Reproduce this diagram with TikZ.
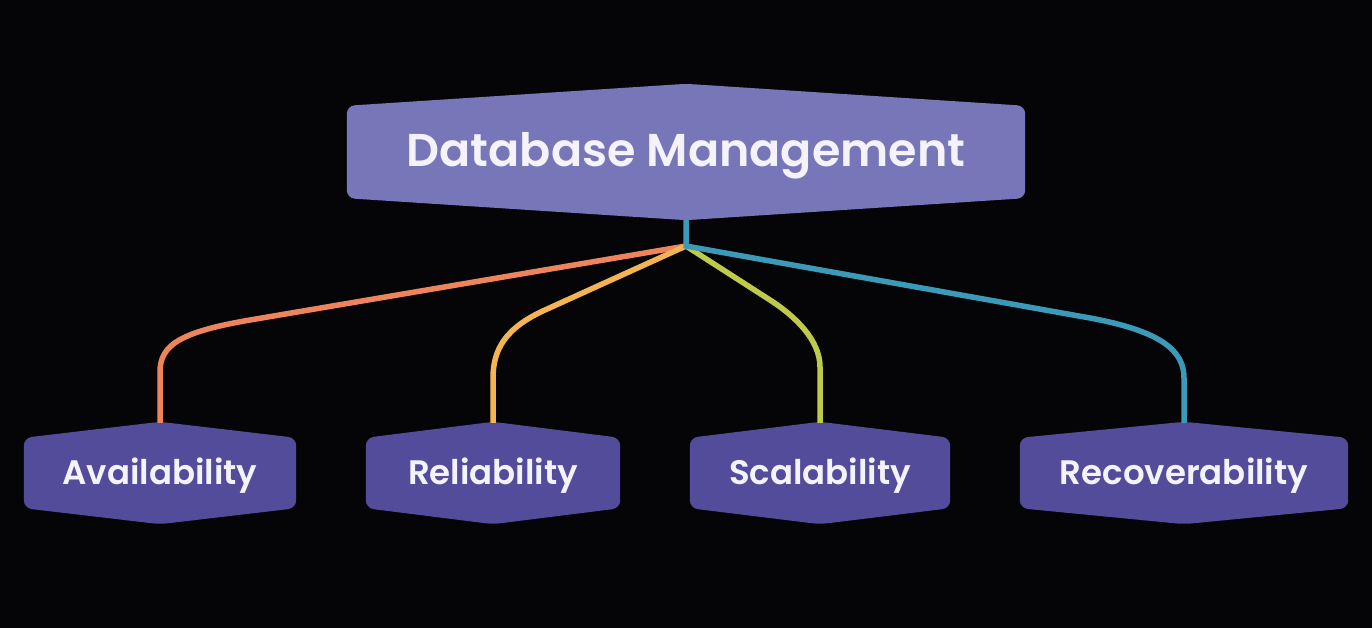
\documentclass[tikz,border=0pt]{standalone}
\usepackage{fontspec}
\setmainfont{Poppins}[BoldFont={Poppins SemiBold}]
\usetikzlibrary{calc}
\definecolor{bgc}{HTML}{050508}
\definecolor{mainc}{HTML}{7676B8}
\definecolor{childc}{HTML}{534C9A}
\definecolor{txtc}{HTML}{F4F2FA}
\definecolor{cone}{HTML}{EE845C}
\definecolor{ctwo}{HTML}{F4B454}
\definecolor{cthree}{HTML}{BECA4A}
\definecolor{cfour}{HTML}{3C9AB9}
\pgfdeclarelayer{back}
\pgfdeclarelayer{shapes}
\pgfsetlayers{back,shapes,main}
\newcommand\hexfill[3]{%
  \begin{pgfonlayer}{shapes}
  \fill[#3, rounded corners=8pt] (#1.north west) -- ($(#1.north)+(0,-#2)$) -- (#1.north east)
     -- (#1.south east) -- ($(#1.south)+(0,#2)$) -- (#1.south west) -- cycle;
  \end{pgfonlayer}}
\begin{document}
\begin{tikzpicture}[x=1pt,y=-1pt,
  boxframe/.style={inner sep=0pt},
  labeltext/.style={text=txtc, inner sep=0pt, align=center},
  maintext/.style={labeltext, font=\bfseries\fontsize{46}{50}\selectfont},
  childtext/.style={labeltext, font=\bfseries\fontsize{34}{40}\selectfont},
  conn/.style={line width=5.5pt, line join=miter}]
\useasboundingbox (0,0) rectangle (1372,628);
\begin{pgfonlayer}{back}
\fill[bgc] (0,0) rectangle (1372,628);
\end{pgfonlayer}

\node[boxframe, minimum width=678pt, minimum height=92pt] (dbm) at (686,152) {};
\node[boxframe, minimum width=272pt, minimum height=70pt] (avail) at (160,473) {};
\node[boxframe, minimum width=254pt, minimum height=70pt] (reli) at (493,473) {};
\node[boxframe, minimum width=260pt, minimum height=70pt] (scal) at (820,473) {};
\node[boxframe, minimum width=328pt, minimum height=70pt] (recov) at (1184,473) {};

\node[maintext] (dbmlabel) at ($(dbm.center)+(0,4)$) {Database Management};
\node[childtext] (availlabel) at ($(avail.center)+(0,3)$) {Availability};
\node[childtext] (relilabel) at ($(reli.center)+(0,3)$) {Reliability};
\node[childtext] (scallabel) at ($(scal.center)+(0,3)$) {Scalability};
\node[childtext] (recovlabel) at ($(recov.center)+(0,3)$) {Recoverability};

\hexfill{dbm}{22}{mainc}
\hexfill{avail}{16}{childc}
\hexfill{reli}{16}{childc}
\hexfill{scal}{16}{childc}
\hexfill{recov}{16}{childc}

\coordinate (dbmbot) at ($(dbm.south)+(0,22)$);
\coordinate (J) at (686,246);
\coordinate (availtop) at ($(avail.north)+(0,-15)$);
\coordinate (relitop) at ($(reli.north)+(0,-15)$);
\coordinate (scaltop) at ($(scal.north)+(0,-15)$);
\coordinate (recovtop) at ($(recov.north)+(0,-15)$);

\draw[conn, cone] (J) -- (250,320) .. controls (180,332) and (160,345) .. (160,372) -- (availtop);
\draw[conn, ctwo] (J) -- (545,310) .. controls (505,328) and (493,350) .. (493,378) -- (relitop);
\draw[conn, cthree] (J) -- (770,300) .. controls (795,316) and (820,340) .. (820,367) -- (scaltop);
\draw[conn, cfour] (dbmbot) -- (J) -- (1090,318) .. controls (1160,331) and (1184,350) .. (1184,378) -- (recovtop);
\end{tikzpicture}
\end{document}
